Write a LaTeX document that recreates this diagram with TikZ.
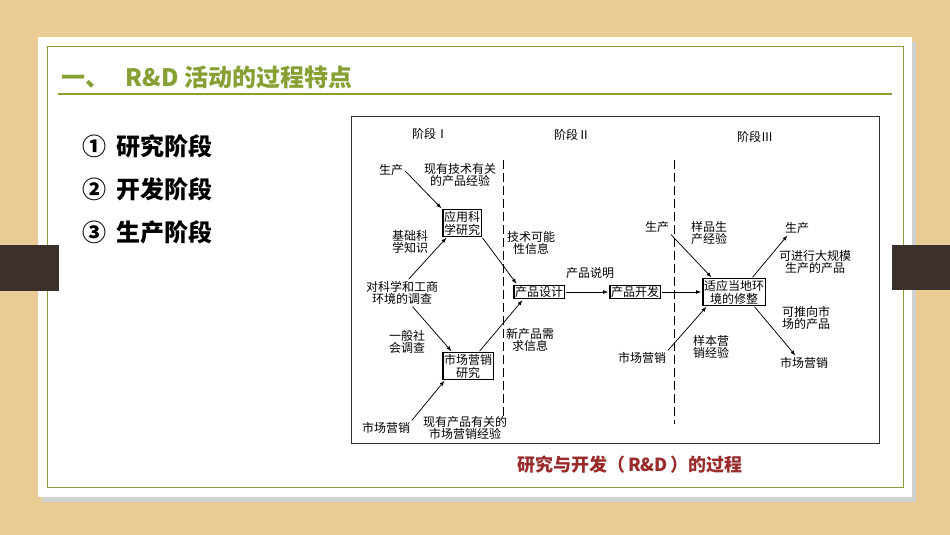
\documentclass[tikz,border=0pt]{standalone}
\usepackage{fontspec}
\setmainfont{Noto Sans CJK SC}
\usetikzlibrary{positioning}

\definecolor{wood}{HTML}{EACB94}
\definecolor{woodbar}{HTML}{3B302A}
\definecolor{leaf}{HTML}{86A033}
\definecolor{capred}{HTML}{9A2B2B}

\begin{document}
\begin{tikzpicture}[x=1pt,y=-1pt,
	box/.style={draw,line width=1.4pt,inner sep=1.2pt,align=center,font=\fontsize{12}{13}\selectfont},
	lbl/.style={align=center,inner sep=1pt,font=\fontsize{12}{12.5}\selectfont},
	arr/.style={-latex,line width=0.75pt,shorten <=1pt,shorten >=1pt},
	divide/.style={line width=0.9pt,dash pattern=on 9pt off 4pt}]
	% slide background
	\fill[wood] (0,0) rectangle (950,535);
	\fill[black!18] (42,42) rectangle (916,502);
	\fill[white] (38,37) rectangle (912,497);
	\draw[leaf,line width=1pt] (47,47) rectangle (903,487);
	\draw[leaf,line width=2.2pt] (58,94) -- (892,94);
	\fill[woodbar] (0,245) rectangle (59,291);
	\fill[woodbar] (892,245) rectangle (950,290);
	% title and list
	\node[anchor=west,text=leaf,font=\bfseries\fontsize{24}{24}\selectfont] (title) at (58,77) {一、\hspace{16pt}R\&D 活动的过程特点};
	\node[anchor=west,font=\bfseries\fontsize{24}{24}\selectfont] (st1) at (79,146) {①\hspace{10pt}研究阶段};
	\node[anchor=west,font=\bfseries\fontsize{24}{24}\selectfont] (st2) at (79,189) {②\hspace{10pt}开发阶段};
	\node[anchor=west,font=\bfseries\fontsize{24}{24}\selectfont] (st3) at (79,232) {③\hspace{10pt}生产阶段};
	% figure frame
	\draw[black!80,line width=0.9pt] (351,116) rectangle (879,443);
	\node[text=capred,font=\bfseries\fontsize{18}{18}\selectfont] (cap) at (630,465) {研究与开发（\,R\&D\,）的过程};
	% stages
	\node[lbl] (ph1) at (430,134) {阶段Ⅰ};
	\node[lbl] (ph2) at (572,135) {阶段Ⅱ};
	\node[lbl] (ph3) at (755,137) {阶段Ⅲ};
	\draw[divide] (503,160) -- (503,420);
	\draw[divide] (674,160) -- (674,424);
	% boxes
	\node[box] (yy) at (462,223) {应用科\\学研究};
	\node[box] (sy) at (468,366) {市场营销\\研究};
	\node[box] (cp) at (539,292) {产品设计};
	\node[box] (kf) at (635,292) {产品开发};
	\node[box] (sx) at (734,292) {适应当地环\\境的修整};
	% labels
	\node[lbl] (sc1) at (391,170) {生产};
	\node[lbl] (jy1) at (460,175) {现有技术有关\\的产品经验};
	\node[lbl] (zs) at (410,242) {基础科\\学知识};
	\node[lbl] (js) at (531,243) {技术可能\\性信息};
	\node[lbl] (dc) at (402,293) {对科学和工商\\环境的调查};
	\node[lbl] (yb) at (407,342) {一般社\\会调查};
	\node[lbl] (xq) at (530,340) {新产品需\\求信息};
	\node[lbl] (sc2) at (386,428) {市场营销};
	\node[lbl] (jy2) at (465,428) {现有产品有关的\\市场营销经验};
	\node[lbl] (sm) at (590,273) {产品说明};
	\node[lbl] (sc3) at (657,227) {生产};
	\node[lbl] (yp) at (709,233) {样品生\\产经验};
	\node[lbl] (sc5) at (797,228) {生产};
	\node[lbl] (gm) at (815,262) {可进行大规模\\生产的产品};
	\node[lbl] (tx) at (806,318) {可推向市\\场的产品};
	\node[lbl] (sc4) at (642,358) {市场营销};
	\node[lbl] (yx) at (711,347) {样本营\\销经验};
	\node[lbl] (sc6) at (804,363) {市场营销};
	% arrows
	\draw[arr] (sc1.east) -- (yy.north west);
	\draw[arr] ([xshift=6pt]dc.north) -- ([xshift=5pt]yy.south west);
	\draw[arr] (yy.south east) -- ([xshift=4pt]cp.north west);
	\draw[arr] ([xshift=10pt]dc.south) -- ([xshift=10pt]sy.north west);
	\draw[arr] (sc2.north east) -- ([xshift=3pt]sy.south west);
	\draw[arr] ([xshift=-15pt]sy.north east) -- ([xshift=10pt]cp.south west);
	\draw[arr] (cp) -- (kf);
	\draw[arr] (kf) -- (sx);
	\draw[arr] (sc3.south east) -- ([xshift=10pt]sx.north west);
	\draw[arr] (sc4.north east) -- ([xshift=5pt]sx.south west);
	\draw[arr] ([xshift=-14pt]sx.north east) -- ([xshift=-9pt]sc5.south);
	\draw[arr] ([xshift=-12pt]sx.south east) -- ([xshift=-8pt]sc6.north);
\end{tikzpicture}
\end{document}
